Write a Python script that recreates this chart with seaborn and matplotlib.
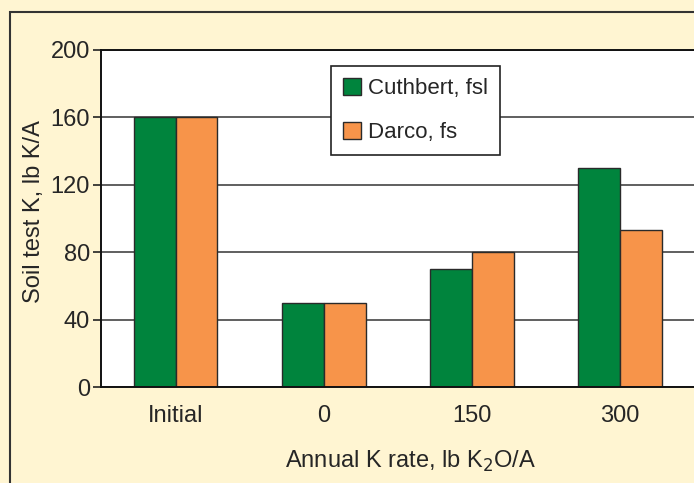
import matplotlib.pyplot as plt
import matplotlib.patches as mpatches
import pandas as pd
import seaborn as sns

# data
rates = ['Initial', '0', '150', '300']
cuthbert = [160, 50, 70, 130]
darco = [160, 50, 80, 93]
soils = ['Cuthbert, fsl', 'Darco, fs']
y_ticks = [0, 40, 80, 120, 160, 200]

GREEN = '#00843d'
ORANGE = '#f7944a'
CREAM = '#fff5d2'


def build_frame():
    rows = []
    for rate, c, d in zip(rates, cuthbert, darco):
        rows.append({'rate': rate, 'soil': soils[0], 'k': c})
        rows.append({'rate': rate, 'soil': soils[1], 'k': d})
    return pd.DataFrame(rows)


def main():
    df = build_frame()
    sns.set_style('white')
    plt.rcParams['font.family'] = ['Liberation Sans', 'DejaVu Sans']

    fig = plt.figure(figsize=(6.94, 4.83), dpi=100, facecolor=CREAM)
    # outer frame, runs off the right and bottom edge like the reference
    fig.patches.append(mpatches.Rectangle(
        (10 / 694, -0.1), 1.2, 1 - 12 / 483 + 0.1, transform=fig.transFigure,
        fill=False, edgecolor='#333333', linewidth=1.5))

    ax = fig.add_axes([101 / 694, 1 - 387 / 483, 597 / 694, 337 / 483])
    ax.set_facecolor('white')
    sns.barplot(data=df, x='rate', y='k', hue='soil', order=rates,
                hue_order=soils, palette=[GREEN, ORANGE], width=0.565,
                edgecolor='#2a2a2a', linewidth=1, saturation=1, ax=ax)

    ax.set_ylim(0, 200)
    ax.set_xlim(-0.503, 3.527)
    ax.set_yticks(y_ticks)
    ax.yaxis.grid(True, color='#444444', linewidth=1.2)
    ax.set_axisbelow(True)
    ax.tick_params(axis='y', direction='out', length=6, width=1.2,
                   color='#222222', labelsize=17, left=True, pad=2)
    ax.tick_params(axis='x', length=0, labelsize=17, pad=13)
    for side in ['left', 'top', 'bottom']:
        ax.spines[side].set_color('#111111')
        ax.spines[side].set_linewidth(1.4)
    ax.spines['right'].set_visible(False)

    ax.set_xlabel('Annual K rate, lb K$_2$O/A', fontsize=17, labelpad=16,
                  x=0.519)
    ax.set_ylabel('Soil test K, lb K/A', fontsize=17, labelpad=4, y=0.522)

    handles, labels = ax.get_legend_handles_labels()
    leg = ax.legend(handles, labels, loc='upper left',
                    bbox_to_anchor=(230 / 597, 1 - 16 / 337), fontsize=16,
                    frameon=True, fancybox=False, edgecolor='#222222',
                    framealpha=1, handlelength=0.8, handleheight=0.8,
                    handletextpad=0.3, labelspacing=1.0, borderpad=0.55,
                    borderaxespad=0)
    leg.get_frame().set_linewidth(1.2)

    fig.savefig('out.png', dpi=100, facecolor=CREAM)


if __name__ == '__main__':
    main()
